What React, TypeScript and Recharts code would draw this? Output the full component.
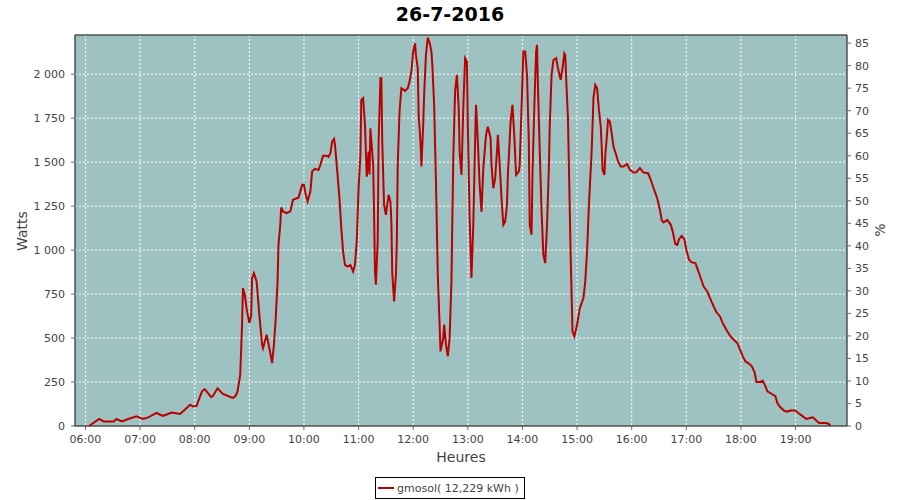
import { LineChart, Line, XAxis, YAxis, CartesianGrid, ReferenceArea } from 'recharts'

// solar production, 26-7-2016
const times = [
  '06:04', '06:15', '06:20', '06:31', '06:34', '06:40', '06:47', '06:56', '07:03', '07:09',
  '07:18', '07:25', '07:35', '07:44', '07:55', '07:58', '08:02', '08:08', '08:11', '08:18',
  '08:20', '08:25', '08:31', '08:37', '08:39', '08:42', '08:45', '08:47', '08:50', '08:52',
  '08:53', '08:55', '08:57', '09:00', '09:02', '09:03', '09:05', '09:08', '09:11', '09:14',
  '09:15', '09:19', '09:22', '09:25', '09:27', '09:29', '09:31', '09:32', '09:34', '09:35',
  '09:37', '09:41', '09:45', '09:48', '09:52', '09:54', '09:58', '10:00', '10:02', '10:04',
  '10:07', '10:09', '10:12', '10:16', '10:18', '10:21', '10:25', '10:27', '10:29', '10:31',
  '10:33', '10:34', '10:36', '10:39', '10:41', '10:43', '10:45', '10:48', '10:51', '10:54',
  '10:56', '10:58', '11:00', '11:02', '11:03', '11:05', '11:07', '11:09', '11:11', '11:12',
  '11:13', '11:16', '11:17', '11:18', '11:19', '11:21', '11:22', '11:24', '11:25', '11:26',
  '11:28', '11:30', '11:33', '11:35', '11:36', '11:37', '11:39', '11:41', '11:42', '11:43',
  '11:45', '11:47', '11:51', '11:54', '11:56', '11:58', '12:00', '12:02', '12:03', '12:05',
  '12:06', '12:08', '12:09', '12:11', '12:12', '12:14', '12:16', '12:18', '12:20', '12:21',
  '12:23', '12:25', '12:27', '12:29', '12:30', '12:33', '12:34', '12:36', '12:38', '12:40',
  '12:42', '12:44', '12:46', '12:48', '12:50', '12:51', '12:53', '12:55', '12:57', '12:59',
  '13:00', '13:02', '13:04', '13:06', '13:08', '13:09', '13:11', '13:13', '13:15', '13:17',
  '13:20', '13:22', '13:25', '13:26', '13:28', '13:30', '13:32', '13:33', '13:35', '13:37',
  '13:39', '13:41', '13:43', '13:44', '13:47', '13:49', '13:51', '13:53', '13:56', '13:57',
  '13:59', '14:01', '14:03', '14:05', '14:07', '14:08', '14:10', '14:11', '14:13', '14:15',
  '14:16', '14:17', '14:19', '14:21', '14:23', '14:25', '14:27', '14:29', '14:30', '14:32',
  '14:34', '14:37', '14:39', '14:42', '14:44', '14:46', '14:47', '14:48', '14:50', '14:51',
  '14:53', '14:55', '14:57', '15:00', '15:03', '15:05', '15:07', '15:09', '15:11', '15:13',
  '15:16', '15:18', '15:20', '15:22', '15:24', '15:26', '15:27', '15:28', '15:30', '15:31',
  '15:33', '15:34', '15:36', '15:38', '15:40', '15:43', '15:45', '15:48', '15:51', '15:55',
  '15:58', '16:02', '16:05', '16:09', '16:13', '16:18', '16:21', '16:24', '16:26', '16:28',
  '16:31', '16:33', '16:35', '16:39', '16:43', '16:45', '16:48', '16:50', '16:52', '16:55',
  '16:58', '17:00', '17:03', '17:06', '17:10', '17:12', '17:15', '17:19', '17:23', '17:26',
  '17:30', '17:33', '17:37', '17:40', '17:44', '17:48', '17:52', '17:56', '17:59', '18:02',
  '18:05', '18:08', '18:12', '18:15', '18:17', '18:21', '18:24', '18:27', '18:29', '18:34',
  '18:38', '18:40', '18:43', '18:47', '18:50', '18:56', '19:00', '19:03', '19:08', '19:12',
  '19:16', '19:19', '19:23', '19:26', '19:34', '19:37', '19:38',
]

const watts = [
  0, 40, 26, 26, 40, 26, 40, 55, 40, 49,
  74, 58, 77, 68, 121, 111, 115, 197, 210, 165,
  170, 214, 182, 170, 165, 160, 172, 197, 291, 576,
  784, 746, 666, 585, 628, 841, 869, 822, 632, 462,
  443, 519, 443, 358, 462, 613, 822, 1030, 1144, 1242,
  1220, 1210, 1220, 1286, 1295, 1298, 1371, 1371, 1314, 1276,
  1333, 1447, 1462, 1456, 1485, 1536, 1536, 1530, 1551, 1617,
  1632, 1602, 1485, 1295, 1125, 992, 916, 906, 916, 878,
  916, 1049, 1352, 1541, 1854, 1864, 1712, 1418, 1560, 1430,
  1693, 1485, 1219, 878, 803, 1049, 1617, 1977, 1977, 1617,
  1257, 1200, 1314, 1276, 1162, 869, 708, 860, 1049, 1485,
  1788, 1920, 1905, 1920, 1958, 2015, 2129, 2176, 2110, 2034,
  1769, 1617, 1475, 1712, 1882, 2110, 2208, 2180, 2129, 2053,
  1826, 1390, 860, 576, 424, 500, 576, 462, 396, 500,
  822, 1523, 1901, 1996, 1807, 1560, 1428, 1807, 2091, 2072,
  1712, 1182, 841, 1144, 1617, 1826, 1617, 1371, 1219, 1466,
  1655, 1702, 1636, 1485, 1352, 1409, 1560, 1655, 1485, 1295,
  1144, 1162, 1257, 1428, 1731, 1826, 1655, 1428, 1447, 1485,
  1807, 2129, 2129, 1996, 1617, 1144, 1087, 1428, 1807, 2129,
  2167, 1939, 1560, 1219, 973, 926, 1144, 1466, 1712, 1996,
  2081, 2091, 2034, 1968, 2034, 2119, 2110, 1977, 1750, 1485,
  954, 538, 509, 576, 670, 699, 727, 822, 992, 1257,
  1560, 1864, 1939, 1920, 1797, 1703, 1598, 1456, 1428, 1541,
  1665, 1741, 1731, 1665, 1589, 1541, 1504, 1475, 1475, 1490,
  1456, 1441, 1443, 1466, 1441, 1437, 1400, 1352, 1324, 1295,
  1230, 1170, 1157, 1172, 1144, 1106, 1034, 1030, 1062, 1081,
  1060, 1002, 945, 930, 926, 898, 854, 793, 765, 727,
  680, 648, 623, 585, 547, 513, 490, 472, 434, 396,
  367, 358, 339, 305, 250, 250, 257, 225, 197, 182,
  168, 131, 108, 89, 82, 89, 87, 74, 55, 40,
  45, 49, 30, 17, 17, 10, 2,
]

const hourTicks = [360, 420, 480, 540, 600, 660, 720, 780, 840, 900, 960, 1020, 1080, 1140]
const wattTicks = [0, 250, 500, 750, 1000, 1250, 1500, 1750, 2000]
const pctTicks = [0, 5, 10, 15, 20, 25, 30, 35, 40, 45, 50, 55, 60, 65, 70, 75, 80, 85]

const toMin = (t: string) => {
  const [h, m] = t.split(':').map(Number)
  return h * 60 + m
}

const data = times.map((t, i) => ({ t: toMin(t), w: watts[i] }))

const fmtHour = (v: number) => `${String(Math.floor(v / 60)).padStart(2, '0')}:00`
const fmtWatt = (v: number) =>
  v >= 1000 ? `${Math.floor(v / 1000)} ${String(v % 1000).padStart(3, '0')}` : String(v)

const FONT = '"DejaVu Sans", sans-serif'
const tickStyle = { fontSize: 11, fill: '#444', fontFamily: FONT }
const X_MIN = 348.5
const X_MAX = 1196.5
const W_MAX = 2223

export default function App() {
  return (
    <div style={{ position: 'absolute', left: 0, top: 0, width: 900, height: 500, background: '#fff', fontFamily: FONT }}>
      <div style={{ position: 'absolute', left: 0, top: 5, width: 900, textAlign: 'center', fontSize: 19, lineHeight: '19px', fontWeight: 'bold', color: '#000' }}>
        26-7-2016
      </div>
      <LineChart width={900} height={500} data={data} margin={{ top: 35, right: 0, left: 0, bottom: 0 }}>
        <CartesianGrid
          yAxisId="left"
          fill="#9ec2c2"
          fillOpacity={1}
          stroke="#ffffff"
          strokeDasharray="2 2"
        />
        <XAxis
          dataKey="t"
          type="number"
          domain={[X_MIN, X_MAX]}
          ticks={hourTicks}
          tickFormatter={fmtHour}
          allowDataOverflow
          height={74}
          tick={tickStyle}
          axisLine={false}
          tickLine={{ stroke: '#666' }}
          tickSize={4}
          tickMargin={5}
          label={{ value: 'Heures', position: 'insideTop', offset: 26, fontSize: 14, fill: '#444', fontFamily: FONT }}
        />
        <YAxis
          yAxisId="left"
          type="number"
          domain={[0, W_MAX]}
          ticks={wattTicks}
          tickFormatter={fmtWatt}
          width={75}
          tick={tickStyle}
          axisLine={false}
          tickLine={{ stroke: '#666' }}
          tickSize={4}
          tickMargin={6}
        />
        <YAxis
          yAxisId="right"
          orientation="right"
          type="number"
          domain={[0, 86.8]}
          ticks={pctTicks}
          allowDataOverflow
          width={53}
          tick={tickStyle}
          axisLine={false}
          tickLine={{ stroke: '#666' }}
          tickSize={4}
          tickMargin={4}
        />
        <ReferenceArea
          yAxisId="left"
          x1={X_MIN}
          x2={X_MAX}
          y1={0}
          y2={W_MAX}
          fill="none"
          stroke="#000"
          strokeWidth={1}
        />
        {/* empty series so the % axis is drawn */}
        <Line
          yAxisId="right"
          type="linear"
          dataKey="pct"
          stroke="none"
          dot={false}
          legendType="none"
          isAnimationActive={false}
        />
        <Line
          yAxisId="left"
          type="linear"
          dataKey="w"
          stroke="#bb0000"
          strokeWidth={2}
          dot={false}
          isAnimationActive={false}
        />
      </LineChart>
      <div style={{ position: 'absolute', left: 22, top: 231, transform: 'translate(-50%, -50%) rotate(-90deg)', fontSize: 14, color: '#444', whiteSpace: 'nowrap' }}>
        Watts
      </div>
      <div style={{ position: 'absolute', left: 880, top: 230, transform: 'translate(-50%, -50%) rotate(-90deg)', fontSize: 14, color: '#444' }}>
        %
      </div>
      <div style={{ position: 'absolute', left: 375, top: 477, width: 150, height: 22, boxSizing: 'border-box', border: '1px solid #000', display: 'flex', alignItems: 'center', fontSize: 11, color: '#444', whiteSpace: 'nowrap' }}>
        <span style={{ display: 'inline-block', width: 16, height: 2, background: '#bb0000', marginLeft: 2, marginRight: 3 }} />
        gmosol( 12,229 kWh )
      </div>
    </div>
  )
}
